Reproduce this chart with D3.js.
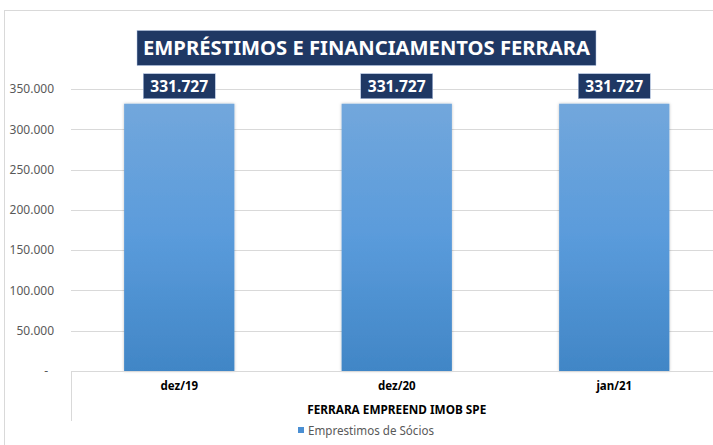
<!DOCTYPE html>
<html>
<head>
<meta charset="utf-8">
<script src="https://cdn.jsdelivr.net/npm/d3@7"></script>
<style>
  html, body { margin: 0; padding: 0; background: #ffffff; }
  svg { display: block; }
</style>
</head>
<body>
<svg id="chart" width="713" height="445"></svg>
<script>
const chartTitle = "EMPRÉSTIMOS E FINANCIAMENTOS FERRARA";
const categories = ["dez/19", "dez/20", "jan/21"];
const seriesName = "Emprestimos de Sócios";
const seriesValues = [331727, 331727, 331727];
const groupLabel = "FERRARA EMPREEND IMOB SPE";
const yTicks = [0, 50000, 100000, 150000, 200000, 250000, 300000, 350000];

const locale = d3.formatLocale({ decimal: ",", thousands: ".", grouping: [3], currency: ["", ""] });
const fmt = locale.format(",.0f");
const tickFmt = v => v === 0 ? "-" : fmt(v);

const svg = d3.select("#chart");
const font = "'Noto Sans', 'Open Sans', sans-serif";
const navy = "#1f3864";

const defs = svg.append("defs");
const grad = defs.append("linearGradient").attr("id", "barGrad")
  .attr("x1", 0).attr("y1", 0).attr("x2", 0).attr("y2", 1);
grad.append("stop").attr("offset", "0%").attr("stop-color", "#72a7dc");
grad.append("stop").attr("offset", "50%").attr("stop-color", "#5a9bdb");
grad.append("stop").attr("offset", "100%").attr("stop-color", "#4186c6");
const shadow = defs.append("filter").attr("id", "shadow")
  .attr("x", "-10%").attr("y", "-10%").attr("width", "120%").attr("height", "120%");
shadow.append("feDropShadow").attr("dx", 0).attr("dy", 0).attr("stdDeviation", 1.5)
  .attr("flood-color", "#000").attr("flood-opacity", 0.25);

// outer chart frame
svg.append("rect").attr("x", 4.5).attr("y", 10.5).attr("width", 740).attr("height", 460)
  .attr("fill", "#fff").attr("stroke", "#d9d9d9").attr("stroke-width", 1);

const x = d3.scaleBand().domain(categories).range([70.5, 723]).paddingInner(0.493).paddingOuter(0.2465);
const y = d3.scaleLinear().domain([0, 350000]).range([371, 89]);

// gridlines
svg.append("g").selectAll("line").data(yTicks.filter(d => d > 0)).join("line")
  .attr("x1", 71).attr("x2", 713)
  .attr("y1", d => Math.round(y(d)) + 0.5).attr("y2", d => Math.round(y(d)) + 0.5)
  .attr("stroke", "#d9d9d9").attr("stroke-width", 1);

// y axis labels
const yAxis = svg.append("g").attr("transform", "translate(54,0)")
  .call(d3.axisLeft(y).tickValues(yTicks).tickFormat(tickFmt).tickSize(0).tickPadding(0));
yAxis.select(".domain").remove();
yAxis.selectAll("text").attr("font-family", font).attr("font-size", 12).attr("fill", "#595959")
  .attr("dx", d => d === 0 ? -6 : 0);

// bars
svg.append("g").selectAll("rect").data(seriesValues).join("rect")
  .attr("x", (d, i) => x(categories[i]))
  .attr("y", d => y(d))
  .attr("width", x.bandwidth())
  .attr("height", d => y(0) - y(d))
  .attr("fill", "url(#barGrad)")
  .attr("filter", "url(#shadow)");

// x axis line and frame
svg.append("line").attr("x1", 71).attr("x2", 713).attr("y1", 371.5).attr("y2", 371.5)
  .attr("stroke", "#d9d9d9");
svg.append("line").attr("x1", 71.5).attr("x2", 71.5).attr("y1", 371).attr("y2", 421)
  .attr("stroke", "#d9d9d9");

// category labels
const xAxis = svg.append("g").attr("transform", "translate(0,382)")
  .call(d3.axisBottom(x).tickSize(0).tickPadding(0));
xAxis.select(".domain").remove();
xAxis.selectAll("text").attr("font-family", font).attr("font-size", 11.5).attr("font-weight", "bold")
  .attr("fill", "#000").attr("dy", "0.71em");

svg.append("text").attr("x", x("dez/20") + x.bandwidth() / 2).attr("y", 414)
  .attr("text-anchor", "middle").attr("font-family", font).attr("font-size", 11.5)
  .attr("font-weight", "bold").attr("fill", "#000")
  .attr("textLength", 179).attr("lengthAdjust", "spacingAndGlyphs")
  .text(groupLabel);

// legend
svg.append("rect").attr("x", 298).attr("y", 427).attr("width", 6).attr("height", 6).attr("fill", "#4a8fd3");
svg.append("text").attr("x", 308).attr("y", 434.5).attr("font-family", font).attr("font-size", 12)
  .attr("fill", "#595959").attr("textLength", 126).attr("lengthAdjust", "spacingAndGlyphs")
  .text(seriesName);

// data labels
const lbl = svg.append("g").selectAll("g").data(seriesValues).join("g")
  .attr("transform", (d, i) => `translate(${x(categories[i]) + x.bandwidth() / 2},${y(d) - 17.5})`);
lbl.append("rect").attr("x", -36).attr("y", -12.5).attr("width", 72).attr("height", 25)
  .attr("fill", navy).attr("stroke", "#b4c7e7").attr("stroke-width", 0.5);
lbl.append("text").attr("text-anchor", "middle").attr("dy", "0.36em")
  .attr("font-family", font).attr("font-size", 16).attr("font-weight", "bold").attr("fill", "#fff")
  .attr("textLength", 58).attr("lengthAdjust", "spacingAndGlyphs")
  .text(d => fmt(d));

// title
svg.append("rect").attr("x", 137).attr("y", 30.5).attr("width", 459).attr("height", 35)
  .attr("fill", navy).attr("stroke", "#b4c7e7").attr("stroke-width", 0.5);
svg.append("text").attr("x", 366.5).attr("y", 48).attr("dy", "0.36em").attr("text-anchor", "middle")
  .attr("font-family", font).attr("font-size", 20).attr("font-weight", "bold").attr("fill", "#fff")
  .attr("textLength", 447).attr("lengthAdjust", "spacingAndGlyphs")
  .text(chartTitle);
</script>
</body>
</html>
